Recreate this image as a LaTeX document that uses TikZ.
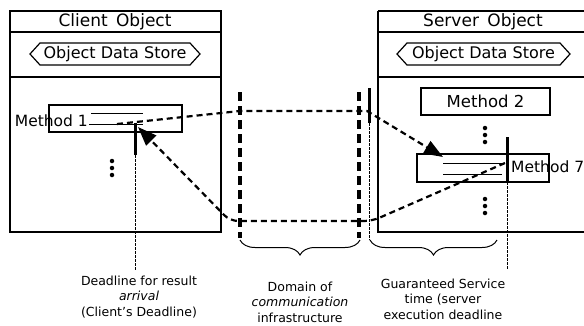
\documentclass[tikz,border=0pt]{standalone}
\usepackage{fontspec}
\setmainfont{DejaVu Sans}
\usetikzlibrary{arrows.meta,decorations.pathreplacing}
\begin{document}
\begin{tikzpicture}[x=1pt,y=-1pt,
 box/.style={draw,line width=1.3pt},
 ttl/.style={font=\fontsize{17}{20}\selectfont},
 storetxt/.style={inner sep=0pt,font=\fontsize{16}{18}\selectfont},
 storeline/.style={line width=1.2pt,line join=miter},
 meth/.style={draw,line width=1.2pt,rectangle,inner sep=0pt},
 mlabel/.style={inner sep=0pt,font=\fontsize{15.5}{17}\selectfont},
 flow/.style={line width=2.2pt,dash pattern=on 6pt off 4pt},
 arrowtip/.style={-{Triangle[length=19pt,width=14pt]}},
 wall/.style={line width=3.5pt,dash pattern=on 9pt off 5pt},
 dl/.style={line width=3pt},
 guide/.style={line width=0.9pt,dash pattern=on 2.5pt off 1.5pt},
 strike/.style={line width=1pt},
 note/.style={align=center,font=\fontsize{12.5}{15.5}\selectfont},
 br/.style={decorate,decoration={brace,mirror,amplitude=15pt},line width=1pt},
 vdot/.style={circle,fill,inner sep=0pt,minimum size=4.5pt}]
\useasboundingbox (0,0) rectangle (584,325);
\clip (0,0) rectangle (584,325);

% Client object
\draw[box] (10,11) rectangle (221,232);
\draw[box] (10,32) -- (221,32);
\draw[box] (10,77) -- (221,77);
\node[ttl] (ctitle) at (115,22) {Client\hspace{3pt} Object};
\node[storetxt] (cstore) at (115,54) {Object Data Store};
\draw[storeline] (30,54) -- (40,43) -- (190,43) -- (200,54) -- (190,65) -- (40,65) -- cycle;

% Server object
\draw[box] (378,11) -- (378,232) -- (590,232);
\draw[box] (378,11) -- (590,11);
\draw[box] (378,32) -- (590,32);
\draw[box] (378,77) -- (590,77);
\node[ttl] (stitle) at (483,22) {Server\hspace{3pt} Object};
\node[storetxt] (sstore) at (483.5,54) {Object Data Store};
\draw[storeline] (397,54) -- (407,43) -- (560,43) -- (570,54) -- (560,65) -- (407,65) -- cycle;

% Method 1
\node[meth,minimum width=133pt,minimum height=27pt] (m1) at (115.5,118.5) {};
\node[mlabel,anchor=east] (m1l) at (88,121) {Method 1};
\draw[strike] (91,113) -- (143,113);
\draw[strike] (89,124) -- (143,124);
\node[vdot] (cd1) at (112,161) {};
\node[vdot] (cd2) at (112,168) {};
\node[vdot] (cd3) at (112,175) {};

% Method 2
\node[meth,minimum width=129pt,minimum height=27pt,font=\fontsize{16.5}{18}\selectfont] (m2) at (485.5,101.5) {Method 2};
\node[vdot] (sd1) at (485,128) {};
\node[vdot] (sd2) at (485,135) {};
\node[vdot] (sd3) at (485,142) {};

% Method 7
\node[meth,minimum width=132pt,minimum height=28pt] (m7) at (483,168) {};
\node[mlabel,anchor=west] (m7l) at (511,167) {Method 7};
\draw[strike] (443,163) -- (502,163);
\draw[strike] (443,174) -- (502,174);
\node[vdot] (sd4) at (485,199) {};
\node[vdot] (sd5) at (485,206) {};
\node[vdot] (sd6) at (485,213) {};

% deadlines
\coordinate (cdtop) at (135,123);
\coordinate (cdmid) at (135,155);
\coordinate (cdbot) at (135,271);
\draw[dl] (cdtop) -- (cdmid);
\draw[guide] (cdmid) -- (cdbot);
\coordinate (sdtop) at (507,137);
\coordinate (sdmid) at (507,182);
\coordinate (sdbot) at (507,270);
\draw[dl] (sdtop) -- (sdmid);
\draw[guide] (sdmid) -- (sdbot);

% communication domain walls
\coordinate (w1t) at (240,92);
\coordinate (w1b) at (240,238);
\coordinate (w2t) at (359,92);
\coordinate (w2b) at (359,238);
\draw[wall] (w1t) -- (w1b);
\draw[wall] (w2t) -- (w2b);
\coordinate (gtop) at (369,88);
\coordinate (gmid) at (369,123);
\coordinate (gbot) at (369,240);
\draw[dl] (gtop) -- (gmid);
\draw[guide] (gmid) -- (gbot);

% request flow
\coordinate (f1) at (117,124);
\coordinate (f2) at (240,111);
\coordinate (f3) at (367,111);
\coordinate (f4) at (443,157);
\draw[flow,arrowtip] (f1) -- (f2) -- (f3) -- (f4);

% reply flow
\coordinate (r1) at (505,163);
\coordinate (r2) at (372,221);
\coordinate (r3) at (230,221);
\coordinate (r4) at (138,127);
\draw[flow,arrowtip,rounded corners=8pt] (r1) -- (r2) -- (r3) -- (r4);

% braces
\coordinate (b1a) at (240,240);
\coordinate (b1b) at (360,240);
\coordinate (b2a) at (370,240);
\coordinate (b2b) at (497,240);
\draw[br] (b1a) -- (b1b);
\draw[br] (b2a) -- (b2b);

% notes
\node[note] (n1) at (139,297) {Deadline for result\\\textit{arrival}\\(Client's Deadline)};
\node[note] (n2) at (300,302) {Domain of\\\textit{communication}\\infrastructure};
\node[note] (n3) at (443,299) {Guaranteed Service\\time (server\\execution deadline};
\end{tikzpicture}
\end{document}
